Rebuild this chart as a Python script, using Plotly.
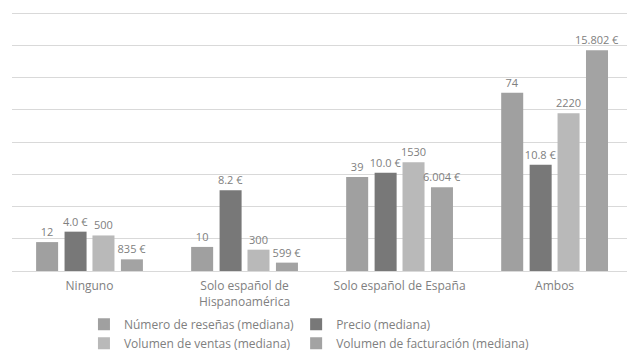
import plotly.graph_objects as go

categories = ["Ninguno", "Solo español de<br>Hispanoamérica", "Solo español de España", "Ambos"]
resenas = [12, 10, 39, 74]
precio = [4.0, 8.2, 10.0, 10.8]
ventas = [500, 300, 1530, 2220]
facturacion = [835, 599, 6004, 15802]

series_names = ["Número de reseñas (mediana)", "Precio (mediana)",
                "Volumen de ventas (mediana)", "Volumen de facturación (mediana)"]

lab_resenas = [str(v) for v in resenas]
lab_precio = [f"{v:.1f} €" for v in precio]
lab_ventas = [str(v) for v in ventas]
lab_fact = [f"{v:,} €".replace(",", ".") for v in facturacion]

colors = ["#a0a0a0", "#787878", "#b9b9b9", "#a3a3a3"]
axes = ["y", "y2", "y3", "y4"]
legends = ["legend", "legend2", "legend", "legend2"]
offsets = [-0.3445, -0.161, 0.019, 0.2025]
width = 0.142
FONT = "Open Sans"
TXT = "#808080"
YMAX = 107
K = 261 / 257.7  # headroom so the top gridline sits inside the plot

fig = go.Figure()
for name, vals, labs, col, ax, off, lg in zip(series_names,
                                              [resenas, precio, ventas, facturacion],
                                              [lab_resenas, lab_precio, lab_ventas, lab_fact],
                                              colors, axes, offsets, legends):
    fig.add_trace(go.Bar(
        x=categories, y=vals, name=name, yaxis=ax, legend=lg,
        marker=dict(color=col, line=dict(width=0)),
        width=width, offset=off,
        text=labs, textposition="outside", cliponaxis=False,
        constraintext="none",
        textfont=dict(family=FONT, size=11, color=TXT),
        hoverinfo="skip",
    ))

leg_common = dict(orientation="v", xanchor="left", y=-0.148, yanchor="top",
                  bgcolor="rgba(0,0,0,0)", tracegroupgap=0,
                  font=dict(family=FONT, size=12, color=TXT))

fig.update_layout(
    width=627, height=352,
    margin=dict(l=12, r=0, t=10, b=81, autoexpand=False),
    paper_bgcolor="white", plot_bgcolor="white",
    barmode="group",
    font=dict(family=FONT, size=12, color=TXT),
    xaxis=dict(type="category", range=[-0.5, 3.467], showgrid=False,
               showline=True, linecolor="#d9d9d9", linewidth=1, automargin=False,
               ticks="", ticklabelstandoff=4,
               tickfont=dict(family=FONT, size=12, color=TXT)),
    yaxis=dict(range=[0, YMAX * K], tickvals=[YMAX * i / 8 for i in range(9)],
               showgrid=True, gridcolor="#d9d9d9",
               gridwidth=1, showticklabels=False, zeroline=False, ticks="",
               automargin=False),
    yaxis2=dict(range=[0, 26.2 * K], overlaying="y", visible=False),
    yaxis3=dict(range=[0, 3625 * K], overlaying="y", visible=False),
    yaxis4=dict(range=[0, 18450 * K], overlaying="y", visible=False),
    showlegend=True,
    legend=dict(x=0.117, **leg_common),
    legend2=dict(x=0.462, **leg_common),
)

fig.write_html("out.html")
